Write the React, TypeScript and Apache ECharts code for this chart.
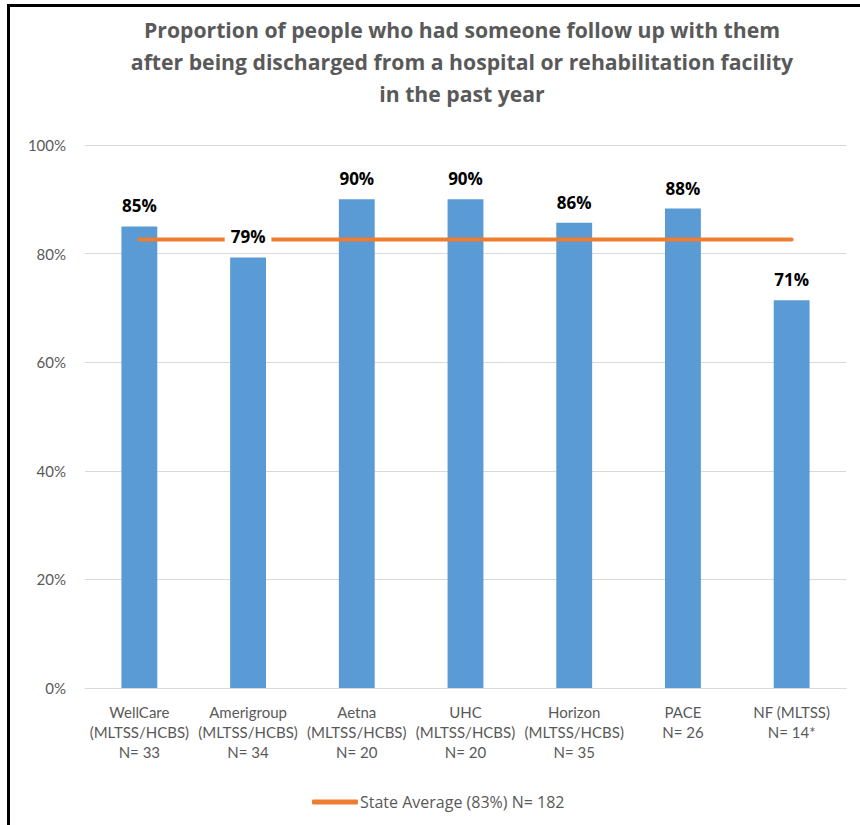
import React, { useEffect, useRef } from "react";
import * as echarts from "echarts";

const titleText =
  "Proportion of people who had someone follow up with them\nafter being discharged from a hospital or rehabilitation facility\nin the past year";
const categories = [
  "WellCare\n(MLTSS/HCBS)\nN= 33",
  "Amerigroup\n(MLTSS/HCBS)\nN= 34",
  "Aetna\n(MLTSS/HCBS)\nN= 20",
  "UHC\n(MLTSS/HCBS)\nN= 20",
  "Horizon\n(MLTSS/HCBS)\nN= 35",
  "PACE\nN= 26",
  "NF (MLTSS)\nN= 14*",
];
const planValues = [85, 79.3, 90, 90, 85.7, 88.3, 71.4];
const stateAverage = 82.6;
const stateAverageName = "State Average (83%) N= 182";
const yTicks = { min: 0, max: 100, interval: 20 };

const FONT = "Lato, 'Open Sans', sans-serif";
const WIDE = "'Open Sans', Lato, sans-serif";

export default function App() {
  const ref = useRef<HTMLDivElement>(null);
  useEffect(() => {
    if (!ref.current) return;
    const chart = echarts.init(ref.current, null, { renderer: "svg" });
    chart.setOption({
      animation: false,
      backgroundColor: "#ffffff",
      textStyle: { fontFamily: FONT },
      title: {
        text: titleText,
        left: 457,
        top: 8,
        textAlign: "center",
        textStyle: {
          fontFamily: WIDE,
          fontSize: 21.2,
          fontWeight: "bold",
          color: "#595959",
          lineHeight: 32,
        },
      },
      legend: {
        data: [{ name: stateAverageName, icon: "roundRect" }],
        left: 307,
        top: 789,
        itemWidth: 46,
        itemHeight: 5,
        itemGap: 10,
        textStyle: { fontFamily: WIDE, fontSize: 16, color: "#595959", padding: [0, 0, 0, -3] },
      },
      grid: { left: 85, right: 14, top: 145, bottom: 137, containLabel: false },
      xAxis: {
        type: "category",
        data: categories,
        axisLine: { show: true, lineStyle: { color: "#D9D9D9", width: 1 } },
        axisTick: { show: false },
        axisLabel: {
          interval: 0,
          fontFamily: FONT,
          fontSize: 15,
          color: "#595959",
          lineHeight: 20,
          margin: 14,
        },
      },
      yAxis: {
        type: "value",
        min: yTicks.min,
        max: yTicks.max,
        interval: yTicks.interval,
        axisLine: { show: false },
        axisTick: { show: false },
        splitLine: { lineStyle: { color: "#D9D9D9", width: 1 } },
        axisLabel: {
          formatter: (v: number) => v + "%",
          fontFamily: FONT,
          fontSize: 15,
          color: "#595959",
          margin: 19,
        },
      },
      series: [
        {
          name: "Plans",
          type: "bar",
          data: planValues,
          barWidth: "33%",
          itemStyle: { color: "#5B9BD5" },
          z: 1,
        },
        {
          name: stateAverageName,
          type: "line",
          data: categories.map(() => stateAverage),
          symbol: "none",
          lineStyle: { color: "#ED7D31", width: 4, cap: "round" },
          itemStyle: { color: "#ED7D31" },
          z: 2,
        },
        {
          name: "Labels",
          type: "bar",
          data: planValues,
          barWidth: "33%",
          barGap: "-100%",
          itemStyle: { color: "rgba(0,0,0,0)" },
          silent: true,
          z: 5,
          label: {
            show: true,
            position: "top",
            distance: 12,
            formatter: (p: any) => Math.round(p.value) + "%",
            fontFamily: WIDE,
            fontSize: 17,
            fontWeight: "bold",
            color: "#000000",
            backgroundColor: "#ffffff",
            padding: [2, 6, 0, 6],
          },
        },
      ],
      graphic: [
        {
          type: "line",
          shape: { x1: 8.5, y1: 5.5, x2: 860, y2: 5.5 },
          style: { stroke: "#000000", lineWidth: 3 },
          z: 100,
        },
        {
          type: "line",
          shape: { x1: 8.5, y1: 4, x2: 8.5, y2: 825 },
          style: { stroke: "#000000", lineWidth: 3 },
          z: 100,
        },
      ],
    });
    return () => chart.dispose();
  }, []);
  return (
    <div
      ref={ref}
      style={{ position: "absolute", left: 0, top: 0, width: 860, height: 825 }}
    />
  );
}
